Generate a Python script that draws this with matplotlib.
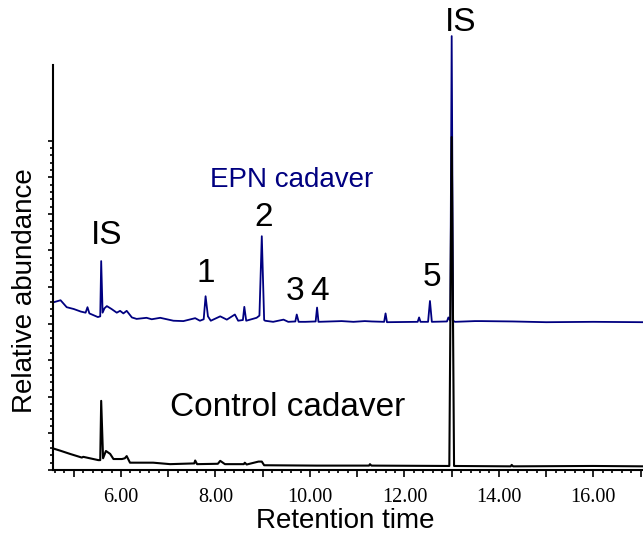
import matplotlib
matplotlib.use("Agg")
import matplotlib.pyplot as plt
from matplotlib.ticker import MultipleLocator, FuncFormatter

# EPN cadaver trace (retention time, relative abundance)
epn_time = [4.56, 4.72, 4.85, 5.0, 5.15, 5.25, 5.29, 5.33, 5.51, 5.56, 5.58, 5.61,
            5.65, 5.70, 5.80, 5.91, 5.98, 6.05, 6.12, 6.23, 6.33, 6.54, 6.65, 6.83,
            7.11, 7.32, 7.57, 7.67, 7.75, 7.79, 7.84, 7.90, 8.10, 8.24, 8.41, 8.48,
            8.58, 8.61, 8.65, 8.87, 8.93, 8.98, 9.03, 9.05, 9.22, 9.44, 9.54, 9.69,
            9.72, 9.76, 9.90, 10.12, 10.15, 10.18, 10.67, 10.92, 11.16, 11.31, 11.57,
            11.60, 11.63, 12.28, 12.31, 12.34, 12.50, 12.54, 12.58, 12.90, 12.93,
            12.97, 13.0, 13.03, 13.07, 13.49, 13.63, 14.30, 15.0, 16.0, 17.05]
epn_value = [4.58, 4.64, 4.45, 4.40, 4.33, 4.30, 4.45, 4.28, 4.18, 4.20, 5.71, 4.30,
             4.42, 4.48, 4.40, 4.30, 4.35, 4.28, 4.35, 4.17, 4.13, 4.16, 4.12, 4.16,
             4.08, 4.07, 4.15, 4.08, 4.12, 4.75, 4.20, 4.08, 4.20, 4.11, 4.25, 4.08,
             4.10, 4.46, 4.08, 4.16, 4.22, 6.39, 4.10, 4.08, 4.05, 4.11, 4.05, 4.06,
             4.25, 4.05, 4.05, 4.06, 4.44, 4.05, 4.07, 4.05, 4.07, 4.06, 4.05,
             4.28, 4.04, 4.05, 4.17, 4.05, 4.05, 4.62, 4.05, 4.06, 4.17,
             4.08, 11.86, 4.08, 4.05, 4.07, 4.07, 4.06, 4.04, 4.05, 4.04]

# control cadaver trace
ctrl_time = [4.56, 4.71, 4.92, 5.17, 5.20, 5.52, 5.56, 5.58, 5.62, 5.68, 5.77, 5.84,
             6.02, 6.08, 6.12, 6.19, 6.68, 7.04, 7.55, 7.57, 7.61, 8.05, 8.10, 8.20,
             8.60, 8.62, 8.66, 8.91, 8.98, 9.03, 10.14, 11.25, 11.27, 11.30, 12.95,
             13.0, 13.05, 14.25, 14.27, 14.30, 16.0, 17.05]
ctrl_value = [0.59, 0.53, 0.44, 0.34, 0.36, 0.27, 0.27, 1.89, 0.32, 0.52, 0.44, 0.30,
              0.30, 0.32, 0.38, 0.20, 0.20, 0.16, 0.18, 0.26, 0.16, 0.17, 0.25, 0.16,
              0.16, 0.20, 0.15, 0.23, 0.23, 0.13, 0.12, 0.12, 0.16, 0.12, 0.11,
              9.1, 0.11, 0.10, 0.14, 0.10, 0.11, 0.10]

# peak labels
peak_labels = ["IS", "1", "2", "3", "4", "5", "IS"]
peak_x = [5.70, 7.80, 9.01, 9.68, 10.20, 12.58, 13.19]
peak_y = [6.40, 5.36, 6.89, 4.89, 4.89, 5.25, 12.22]

navy = "#000080"
sans = ["Liberation Sans", "DejaVu Sans"]

fig = plt.figure(figsize=(6.43, 5.39), dpi=100)
ax = fig.add_axes([53 / 643, 69 / 539, 590 / 643, 405 / 539])

ax.plot(epn_time, epn_value, color=navy, linewidth=1.3, clip_on=False, zorder=2)
ax.plot(ctrl_time, ctrl_value, color="black", linewidth=1.5, clip_on=False, zorder=3)

for lab, px, py in zip(peak_labels, peak_x, peak_y):
    ax.text(px, py, lab, fontsize=24, family=sans, ha="center", va="center")

ax.text(9.62, 7.93, "EPN cadaver", fontsize=20, family=sans, color=navy,
        ha="center", va="center")
ax.text(9.53, 1.70, "Control cadaver", fontsize=24, family=sans,
        ha="center", va="center")

ax.set_xlim(4.56, 17.05)
ax.set_ylim(0, 11.07)

ax.spines["top"].set_visible(False)
ax.spines["right"].set_visible(False)
ax.spines["left"].set_linewidth(1.5)
ax.spines["bottom"].set_linewidth(1.5)

ax.xaxis.set_major_locator(MultipleLocator(1))
ax.xaxis.set_minor_locator(MultipleLocator(0.2))
ax.xaxis.set_major_formatter(FuncFormatter(
    lambda v, pos: "%.2f" % v if round(v) % 2 == 0 else ""))
ax.set_yticks([0, 1, 2, 3, 4, 5, 6, 7, 8, 9])
ax.set_yticks([i * 0.2 for i in range(46)], minor=True)
ax.set_yticklabels([])
ax.tick_params(axis="x", which="major", length=5, width=1.2, direction="out",
               labelsize=14.5, pad=8)
ax.tick_params(axis="x", which="minor", length=2.5, width=1.2, direction="out")
ax.tick_params(axis="y", which="major", length=3.5, width=1.2, direction="out")
ax.tick_params(axis="y", which="minor", length=2, width=1.2, direction="out")
for lbl in ax.get_xticklabels():
    lbl.set_family("Liberation Serif")

fig.text(345 / 643, 1 - 521 / 539, "Retention time", fontsize=20, family=sans,
         ha="center", va="center")
fig.text(25 / 643, 1 - 291 / 539, "Relative abundance", fontsize=20, family=sans,
         ha="center", va="center", rotation=90)

fig.savefig("out.png", dpi=100)
